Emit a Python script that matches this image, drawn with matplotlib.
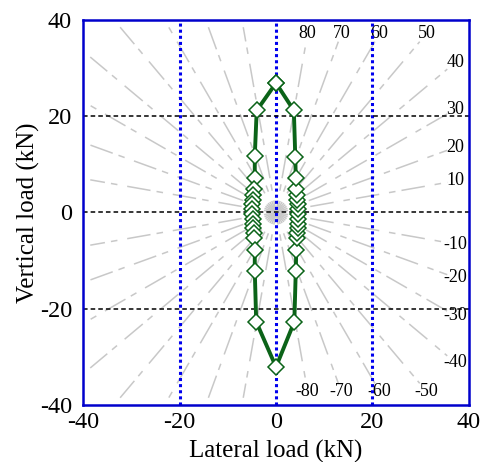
import numpy as np
import matplotlib
matplotlib.use("Agg")
import matplotlib.pyplot as plt

# ---- data ----
lateral = [0.0,
           -4.0, -4.4, -4.4, -4.6, -4.7, -4.8, -4.9, -4.9, -4.9, -4.8, -4.8, -4.7, -4.6, -4.5, -4.4, -4.4, -4.1,
           0.0,
           3.8, 4.1, 4.2, 4.3, 4.4, 4.5, 4.5, 4.6, 4.6, 4.6, 4.5, 4.4, 4.3, 4.2, 4.1, 4.0, 3.7,
           0.0]
vertical = [26.9,
            21.2, 11.7, 7.1, 4.8, 3.7, 2.7, 1.7, 0.7, -0.3, -1.3, -2.3, -3.3, -4.3, -5.4, -7.8, -12.1, -22.7,
            -32.1,
            -22.7, -12.1, -7.8, -5.4, -4.3, -3.3, -2.3, -1.3, -0.3, 0.7, 1.7, 2.7, 3.7, 4.8, 7.1, 11.5, 21.2,
            26.9]
ray_angles_right = [10, 20, 30, 40, 50, 60, 70, 80, -10, -20, -30, -40, -50, -60, -70, -80]
ray_angles_left = [100, 110, 120, 130, 140, 150, 160, 170,
                   -100, -110, -120, -130, -140, -150, -160, -170]
ticks = [-40, -20, 0, 20, 40]

# ---- figure ----
fig = plt.figure(figsize=(4.81, 4.62), dpi=100)
ax = fig.add_axes([0.1726, 0.1234, 0.8024, 0.8333])
serif = ['Liberation Serif', 'DejaVu Serif']

ray_color = '#c8c8c8'
dash = (15.5, 6.5, 4.3, 4.0)

def draw_ray(ang, box):
    t = np.deg2rad(ang)
    c, s = np.cos(t), np.sin(t)
    r = box / max(abs(c), abs(s))
    ax.plot([0, r * c], [0, r * s], color=ray_color, lw=1.1, zorder=1,
            ls=(7.5, dash), dash_capstyle='butt')

for a in ray_angles_right:
    draw_ray(a, 35.5)
for a in ray_angles_left:
    draw_ray(a, 38.5)

# labels at ray ends
for a in ray_angles_right:
    t = np.deg2rad(a)
    c, s = np.cos(t), np.sin(t)
    r = 37.2 / max(abs(c), abs(s))
    ax.text(r * c, r * s, str(a), fontsize=13, family=serif,
            ha='center', va='center', zorder=2)

# grid lines
for v in [-20, 0, 20]:
    ax.axvline(v, color='#0000ee', lw=2.2, ls=(0, (1, 1)), zorder=3)
for h in [-20, 0, 20]:
    ax.axhline(h, color='black', lw=1.1, ls=(0, (3, 2)), zorder=3)

# data
ax.plot(lateral, vertical, color='#0b6318', lw=2.8, zorder=4,
        marker='D', ms=8.3, mfc='white', mec='#0b6318', mew=1.1)

ax.set_xlim(-40, 40)
ax.set_ylim(-40, 40)
ax.set_xticks(ticks)
ax.set_yticks(ticks)
ax.set_xticklabels([str(t) for t in ticks], family=serif, fontsize=17.5)
ax.set_yticklabels([str(t) for t in ticks], family=serif, fontsize=17.5)
ax.tick_params(length=0)
ax.tick_params(axis='x', pad=5)
ax.tick_params(axis='y', pad=8)
for sp in ax.spines.values():
    sp.set_color('#0000cc')
    sp.set_linewidth(1.8)
    sp.set_zorder(5)

ax.set_xlabel('Lateral load (kN)', family=serif, fontsize=18, labelpad=5)
ax.set_ylabel('Vertical load (kN)', family=serif, fontsize=18, labelpad=0)

fig.savefig('out.png', dpi=100)
